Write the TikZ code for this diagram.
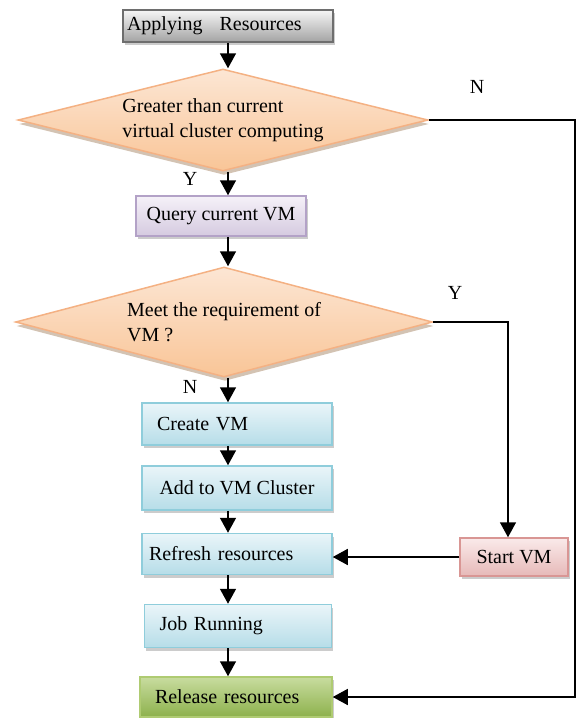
\documentclass[tikz,border=0pt]{standalone}
\usepackage{fontspec}
\setmainfont{Liberation Serif}
\usepackage{xcolor}
\usepackage{tikz}
\usetikzlibrary{shapes.geometric,arrows.meta,shadows}
\definecolor{greyedge}{HTML}{6E6E6E}
\definecolor{greytop}{HTML}{F6F6F6}
\definecolor{greybottom}{HTML}{A3A3A3}
\definecolor{lilacedge}{HTML}{B3A2C7}
\definecolor{lilactop}{HTML}{F5F1F8}
\definecolor{lilacbottom}{HTML}{D5CAE0}
\definecolor{peachedge}{HTML}{F4B183}
\definecolor{peachtop}{HTML}{FCE6D4}
\definecolor{peachbottom}{HTML}{F9C597}
\definecolor{peachshadow}{HTML}{A88768}
\definecolor{vmblueedge}{HTML}{8FCDDB}
\definecolor{vmbluetop}{HTML}{EAF5F9}
\definecolor{vmbluebottom}{HTML}{B6DDE8}
\definecolor{pinkedge}{HTML}{D99694}
\definecolor{pinktop}{HTML}{FAEAEA}
\definecolor{pinkbottom}{HTML}{E6B9B8}
\definecolor{vmgreenedge}{HTML}{AFCB72}
\definecolor{vmgreentop}{HTML}{C8DC9F}
\definecolor{vmgreenbottom}{HTML}{8DB14C}
\tikzset{
    stepbox/.style={
        rectangle, draw, line width=1.5pt, align=left, inner ysep=0pt,
        drop shadow={shadow xshift=1.5pt, shadow yshift=-3pt, fill=black!40}
    },
    greybox/.style={draw=greyedge, top color=greytop, bottom color=greybottom},
    lilacbox/.style={draw=lilacedge, top color=lilactop, bottom color=lilacbottom},
    bluebox/.style={draw=vmblueedge, top color=vmbluetop, bottom color=vmbluebottom},
    pinkbox/.style={draw=pinkedge, top color=pinktop, bottom color=pinkbottom},
    greenbox/.style={draw=vmgreenedge, top color=vmgreentop, bottom color=vmgreenbottom},
    decision/.style={
        diamond, aspect=4, inner sep=0pt, align=left, line width=1.5pt,
        draw=peachedge, top color=peachtop, bottom color=peachbottom,
        drop shadow={shadow xshift=1pt, shadow yshift=-4pt, fill=peachshadow}
    },
    flow/.style={line width=1.5pt, -{Triangle[length=15pt,width=16pt]}},
    flowlabel/.style={inner sep=0pt}
}

\begin{document}
\begin{tikzpicture}[x=1pt, y=-1pt, font=\fontsize{20}{25}\selectfont]
    \useasboundingbox (0,0) rectangle (577,718);

    \node[stepbox, greybox, text width=202pt, inner xsep=4pt, minimum height=32pt] (apply) at (228,26) {Applying\hspace{0.85em}Resources};
    \node[decision, minimum width=410pt, minimum height=102pt] (cond) at (223,120) {Greater than current\\virtual cluster computing};
    \node[stepbox, lilacbox, minimum width=170pt, minimum height=40pt] (query) at (221,216) {Query current VM};
    \node[decision, minimum width=417pt, minimum height=110pt] (meet) at (224,322) {Meet the requirement of\\VM ?};
    \node[stepbox, bluebox, text width=160pt, inner xsep=15pt, minimum height=42pt] (create) at (237,424) {Create VM};
    \node[stepbox, bluebox, minimum width=190pt, minimum height=44pt] (add) at (237,488) {Add to VM Cluster};
    \node[stepbox, bluebox, text width=176pt, inner xsep=7pt, minimum height=41pt] (refresh) at (237,554) {Refresh resources};
    \node[stepbox, pinkbox, minimum width=108pt, minimum height=38pt] (start) at (514,557) {Start VM};
    \node[stepbox, bluebox, text width=157pt, inner xsep=15pt, minimum height=43pt] (job) at (238,626) {Job Running};
    \node[stepbox, greenbox, text width=162pt, inner xsep=15pt, minimum height=40pt] (release) at (236,697) {Release resources};

    \node[flowlabel] (condno) at (477,87) {N};
    \node[flowlabel] (condyes) at (190,179) {Y};
    \node[flowlabel] (meetyes) at (455,293) {Y};
    \node[flowlabel] (meetno) at (190,387) {N};

    \coordinate (spine) at (228,0);
    \coordinate (redge) at (575,0);
    \coordinate (ybend) at (508,0);

    \draw[flow] (apply.south -| spine) -- (cond.north -| spine);
    \draw[flow] (cond.south -| spine) -- (query.north -| spine);
    \draw[flow] (query.south -| spine) -- (meet.north -| spine);
    \draw[flow] (meet.south -| spine) -- (create.north -| spine);
    \draw[flow] (create.south -| spine) -- (add.north -| spine);
    \draw[flow] (add.south -| spine) -- (refresh.north -| spine);
    \draw[flow] (refresh.south -| spine) -- (job.north -| spine);
    \draw[flow] (job.south -| spine) -- (release.north -| spine);
    \draw[flow] (cond.east) -- (cond.east -| redge) |- (release.east);
    \draw[flow] (meet.east) -- (meet.east -| ybend) -- (start.north -| ybend);
    \draw[flow] (start.west) -- (start.west -| refresh.east);
\end{tikzpicture}
\end{document}
